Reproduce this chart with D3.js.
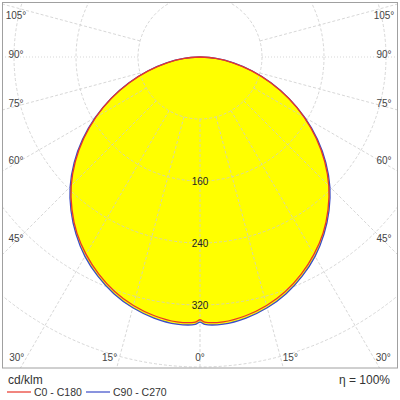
<!DOCTYPE html>
<html>
<head>
<meta charset="utf-8">
<script src="https://cdn.jsdelivr.net/npm/d3@7"></script>
<style>
  body { margin: 0; background: #fff; }
  svg text { font-family: "Liberation Sans", Arial, sans-serif; }
</style>
</head>
<body>
<svg id="chart" width="400" height="400"></svg>
<script>
// gamma angles (deg) and intensities in cd/klm
const gammas = [0, 1, 5, 10, 15, 20, 25, 30, 35, 40, 45, 50, 55, 60, 65, 70, 75, 80, 85, 90];
const c0c180 = [339, 342, 343, 339, 332, 322, 309, 294, 277, 257, 235, 210, 183, 155, 126, 97, 69, 43, 20, 0];
const c90c270 = [342, 345, 346, 342, 335, 325, 312, 297, 279, 259, 237, 212, 185, 156, 127, 98, 70, 44, 21, 0];

const ringValues = [80, 160, 240, 320, 400];
const ringLabels = [160, 240, 320];
const angleTicks = [-105, -90, -75, -60, -45, -30, -15, 0, 15, 30, 45, 60, 75, 90, 105];

const svg = d3.select("#chart");
const frame = { x0: 2.5, y0: 2.5, x1: 397.5, y1: 368 };
const cx = 200, cy = 57;

const r = d3.scaleLinear().domain([0, 400]).range([0, 310]);

// clip for grid + curves
svg.append("clipPath").attr("id", "plotClip")
  .append("rect")
  .attr("x", frame.x0).attr("y", frame.y0)
  .attr("width", frame.x1 - frame.x0).attr("height", frame.y1 - frame.y0);

const plot = svg.append("g").attr("clip-path", "url(#plotClip)");
const g = plot.append("g").attr("transform", `translate(${cx},${cy})`);

// both halves of one plane: left side (C180 / C270) and right side (C0 / C90)
function fullCurve(vals) {
  const pts = [];
  for (let i = gammas.length - 1; i >= 0; i--) pts.push([-gammas[i], vals[i]]);
  for (let i = 1; i < gammas.length; i++) pts.push([gammas[i], vals[i]]);
  return pts;
}

const rad = d => d * Math.PI / 180;
const radial = d3.lineRadial()
  .angle(d => Math.PI - rad(d[0]))
  .radius(d => r(d[1]))
  .curve(d3.curveCatmullRom.alpha(0.5));

// yellow fill
g.append("path")
  .attr("d", radial(fullCurve(c90c270)) + "Z")
  .attr("fill", "#ffff00");

const gridColor = "#cdcdcd";

// grid rings
g.selectAll(".ring")
  .data(ringValues)
  .enter().append("circle")
  .attr("class", "ring")
  .attr("r", d => r(d))
  .attr("fill", "none")
  .attr("stroke", gridColor)
  .attr("stroke-width", 0.8)
  .attr("stroke-dasharray", "3,2");

// radial grid lines, starting at first ring
g.selectAll(".spoke")
  .data(angleTicks)
  .enter().append("line")
  .attr("class", "spoke")
  .attr("x1", d => Math.sin(rad(d)) * r(80))
  .attr("y1", d => Math.cos(rad(d)) * r(80))
  .attr("x2", d => Math.sin(rad(d)) * r(600))
  .attr("y2", d => Math.cos(rad(d)) * r(600))
  .attr("stroke", gridColor)
  .attr("stroke-width", 0.8)
  .attr("stroke-dasharray", d => Math.abs(d) === 90 ? "1,2" : "3,2");

// curves
g.append("path")
  .attr("d", radial(fullCurve(c90c270)))
  .attr("fill", "none")
  .attr("stroke", "#3b4bc8")
  .attr("stroke-width", 1.3);

g.append("path")
  .attr("d", radial(fullCurve(c0c180)))
  .attr("fill", "none")
  .attr("stroke", "#e8362a")
  .attr("stroke-width", 1.3);

// ring value labels along 0 deg
g.selectAll(".ringLabel")
  .data(ringLabels)
  .enter().append("text")
  .attr("x", 0)
  .attr("y", d => r(d))
  .attr("dy", "0.35em")
  .attr("text-anchor", "middle")
  .attr("font-size", 10)
  .attr("fill", "#222")
  .text(d => d);

// frame
svg.append("rect")
  .attr("x", frame.x0).attr("y", frame.y0)
  .attr("width", frame.x1 - frame.x0).attr("height", frame.y1 - frame.y0)
  .attr("fill", "none")
  .attr("stroke", "#a0a0a0")
  .attr("stroke-width", 1);

// angle labels where each spoke meets the label band
const labelBand = { left: 16, right: 384, bottom: 357, top: 15 };
function labelPos(a) {
  const s = Math.sin(rad(a)), c = Math.cos(rad(a));
  if (Math.abs(a) <= 30) {
    const t = (labelBand.bottom - cy) / c;
    let x = cx + s * t;
    if (a !== 0) x += Math.sign(a) * 10;
    return [x, labelBand.bottom];
  }
  const xEdge = a < 0 ? labelBand.left : labelBand.right;
  const t = (xEdge - cx) / s;
  const y = Math.max(labelBand.top, cy + c * t - 3);
  return [xEdge, y];
}

svg.selectAll(".angleLabel")
  .data(angleTicks)
  .enter().append("text")
  .attr("class", "angleLabel")
  .attr("x", d => labelPos(d)[0])
  .attr("y", d => labelPos(d)[1])
  .attr("dy", "0.35em")
  .attr("text-anchor", "middle")
  .attr("font-size", 10)
  .attr("fill", "#444")
  .text(d => Math.abs(d) + "°");

// legend
svg.append("text")
  .attr("x", 8).attr("y", 384)
  .attr("font-size", 12)
  .attr("fill", "#333")
  .text("cd/klm");

svg.append("text")
  .attr("x", 390).attr("y", 384)
  .attr("text-anchor", "end")
  .attr("font-size", 12)
  .attr("fill", "#333")
  .text("η = 100%");

const legendItems = [
  { label: "C0 - C180", color: "#e8362a", x: 7 },
  { label: "C90 - C270", color: "#3b4bc8", x: 86 }
];
const leg = svg.selectAll(".leg")
  .data(legendItems)
  .enter().append("g")
  .attr("transform", d => `translate(${d.x},392)`);
leg.append("line")
  .attr("x1", 0).attr("x2", 24)
  .attr("stroke", d => d.color)
  .attr("stroke-width", 1.2);
leg.append("text")
  .attr("x", 27).attr("dy", "0.35em")
  .attr("font-size", 10.5)
  .attr("fill", "#333")
  .text(d => d.label);
</script>
</body>
</html>
